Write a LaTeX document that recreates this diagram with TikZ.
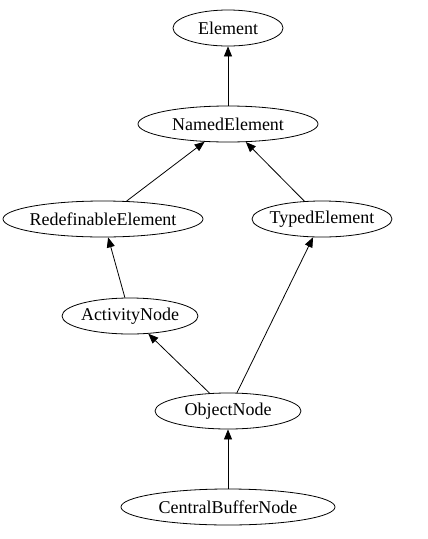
\documentclass[tikz,border=0pt]{standalone}
\usepackage{fontspec}
\setmainfont{Liberation Serif}
\usetikzlibrary{arrows.meta,shapes.geometric}
\begin{document}
\begin{tikzpicture}[x=1pt,y=-1pt, thick,
 class node/.style={ellipse,draw,line width=0.8pt,inner ysep=0pt,inner xsep=-30pt,minimum height=36pt,font=\fontsize{18}{20}\selectfont},
 inherit/.style={-{Triangle[length=10pt,width=8pt]},line width=0.8pt}]
\useasboundingbox (0,0) rectangle (428,539);
\node[class node,minimum width=110pt] (element) at (228,28) {Element};
\node[class node,minimum width=180pt] (named) at (228,124) {NamedElement};
\node[class node,minimum width=200pt] (redef) at (103,219) {RedefinableElement};
\node[class node,minimum width=140pt] (typed) at (322,219) {TypedElement};
\node[class node,minimum width=136pt] (activity) at (130,316) {ActivityNode};
\node[class node,minimum width=146pt] (object) at (228,411) {ObjectNode};
\node[class node,minimum width=214pt] (buffer) at (228,507) {CentralBufferNode};


 \path[inherit]
(named) edge (element)
(redef) edge (named)
(typed) edge (named)
(activity) edge (redef)
(object) edge (typed)
(object) edge (activity)
(buffer) edge (object);

\end{tikzpicture}
\end{document}
